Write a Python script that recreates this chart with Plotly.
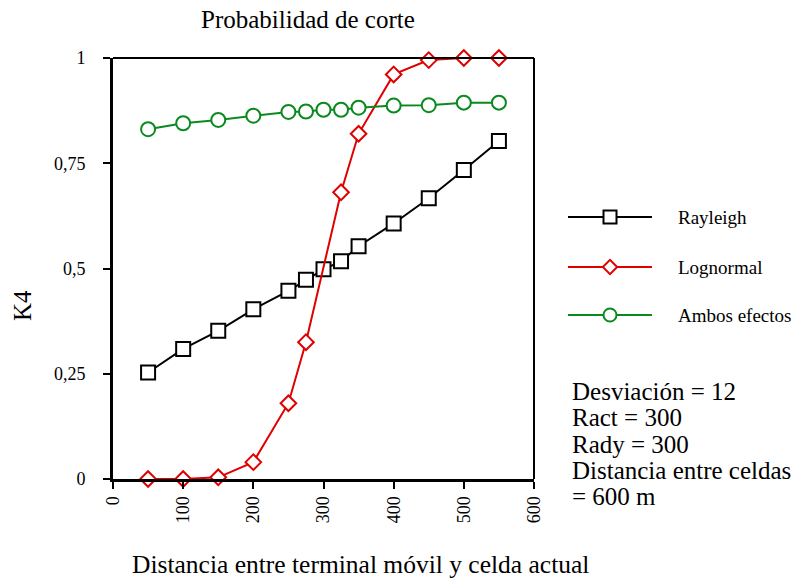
import plotly.graph_objects as go

# ---- data ----
x_rayleigh = [50, 100, 150, 200, 250, 275, 300, 325, 350, 400, 450, 500, 550]
rayleigh = [0.253, 0.309, 0.352, 0.403, 0.447, 0.473, 0.498, 0.517, 0.553, 0.607, 0.667, 0.734, 0.803]

x_lognormal = [50, 100, 150, 200, 250, 275, 325, 350, 400, 450, 500, 550]
lognormal = [0.0, 0.0, 0.004, 0.040, 0.180, 0.325, 0.681, 0.820, 0.961, 0.995, 1.0, 1.0]

x_ambos = [50, 100, 150, 200, 250, 275, 300, 325, 350, 400, 450, 500, 550]
ambos = [0.831, 0.845, 0.853, 0.863, 0.872, 0.873, 0.877, 0.877, 0.882, 0.887, 0.888, 0.894, 0.894]

y_tickvals = [0, 0.25, 0.5, 0.75, 1]
y_ticktext = ["0", "0,25", "0,5", "0,75", "1"]
x_tickvals = [0, 100, 200, 300, 400, 500, 600]

series_names = ["Rayleigh", "Lognormal", "Ambos efectos"]
info_lines = ["Desviación = 12", "Ract = 300", "Rady = 300", "Distancia entre celdas", "= 600 m"]

# ---- styles ----
FONT = "'Liberation Serif', 'Times New Roman', Times, serif"
BLACK = "#000000"
RED = "#E00000"
GREEN = "#0A8A1E"
colors = [BLACK, RED, GREEN]
symbols = ["square", "diamond", "circle"]
msizes = [14, 12, 14]

W, H = 796, 581
L, T, B = 113, 58, 102
plot_w = 534 - L
paper_w = 673          # effective drawable paper width observed in the renderer
paper_h = H - T - B


def px_x(p):
    return (p - L) / paper_w


def px_y(p):
    return (479 - p) / paper_h


fig = go.Figure()

data_sets = [(x_rayleigh, rayleigh), (x_lognormal, lognormal), (x_ambos, ambos)]
for (xs, ys), name, c, s, ms in zip(data_sets, series_names, colors, symbols, msizes):
    fig.add_trace(go.Scatter(
        x=xs, y=ys, mode="lines+markers", name=name,
        line=dict(color=c, width=2),
        marker=dict(symbol=s, size=ms, color="white", line=dict(color=c, width=2)),
        cliponaxis=False, showlegend=False,
    ))

# custom legend on auxiliary axes
legend_y_px = [217, 267, 315]
for name, c, s, ms, ly in zip(series_names, colors, symbols, msizes, legend_y_px):
    yy = px_y(ly)
    fig.add_trace(go.Scatter(
        x=[0, 1], y=[yy, yy], mode="lines", xaxis="x2", yaxis="y2",
        line=dict(color=c, width=2), showlegend=False, hoverinfo="skip",
    ))
    fig.add_trace(go.Scatter(
        x=[0.5], y=[yy], mode="markers", xaxis="x2", yaxis="y2",
        marker=dict(symbol=s, size=ms - 1, color="white", line=dict(color=c, width=2)),
        showlegend=False, hoverinfo="skip", cliponaxis=False,
    ))

annotations = []
for name, ly in zip(series_names, legend_y_px):
    annotations.append(dict(
        x=px_x(676), y=px_y(ly), xref="paper", yref="paper", text=name,
        showarrow=False, xanchor="left", yanchor="middle",
        font=dict(family=FONT, size=19, color="black"),
    ))

info_y_px = [390, 416.5, 443, 469.5, 496]
for txt, iy in zip(info_lines, info_y_px):
    annotations.append(dict(
        x=px_x(570), y=px_y(iy + 1), xref="paper", yref="paper", text=txt,
        showarrow=False, xanchor="left", yanchor="middle",
        font=dict(family=FONT, size=25, color="black"),
    ))

annotations.append(dict(
    x=px_x(307.5), y=px_y(20), xref="paper", yref="paper", text="Probabilidad de corte",
    showarrow=False, xanchor="center", yanchor="middle",
    font=dict(family=FONT, size=25, color="black"),
))
annotations.append(dict(
    x=px_x(360), y=px_y(564), xref="paper", yref="paper",
    text="Distancia entre terminal móvil y celda actual",
    showarrow=False, xanchor="center", yanchor="middle",
    font=dict(family=FONT, size=25.5, color="black"),
))
annotations.append(dict(
    x=px_x(22), y=px_y(306), xref="paper", yref="paper", text="K4",
    showarrow=False, xanchor="center", yanchor="middle", textangle=-90,
    font=dict(family=FONT, size=25, color="black"),
))

shapes = [
    dict(type="line", xref="x domain", yref="y domain", x0=0, x1=1, y0=1, y1=1,
         line=dict(color="black", width=2)),
    dict(type="line", xref="x domain", yref="y domain", x0=1, x1=1, y0=0, y1=1,
         line=dict(color="black", width=2)),
]

fig.update_layout(
    width=W, height=H, autosize=False,
    margin=dict(l=L, r=0, t=T, b=B, pad=0),
    paper_bgcolor="white", plot_bgcolor="white",
    font=dict(family=FONT, size=18, color="black"),
    xaxis=dict(
        domain=[0, plot_w / paper_w], range=[0, 600],
        tickvals=x_tickvals, tickangle=-90,
        showline=True, linewidth=3, linecolor="black",
        ticks="outside", ticklen=7, tickwidth=2, tickcolor="black",
        showgrid=False, zeroline=False,
        tickfont=dict(family=FONT, size=18),
    ),
    yaxis=dict(
        domain=[0, 1], range=[0, 1],
        tickvals=y_tickvals, ticktext=y_ticktext,
        showline=True, linewidth=3, linecolor="black",
        ticks="outside", ticklen=7, tickwidth=2, tickcolor="black",
        showgrid=False, zeroline=False, ticklabelstandoff=14,
        tickfont=dict(family=FONT, size=18),
    ),
    xaxis2=dict(domain=[px_x(568), px_x(652)], range=[0, 1], visible=False,
                anchor="y2", fixedrange=True),
    yaxis2=dict(domain=[0, 1], range=[0, 1], visible=False, anchor="x2",
                fixedrange=True),
    annotations=annotations,
    shapes=shapes,
    showlegend=False,
)

fig.write_html("out.html", config={"responsive": False, "displayModeBar": False})
